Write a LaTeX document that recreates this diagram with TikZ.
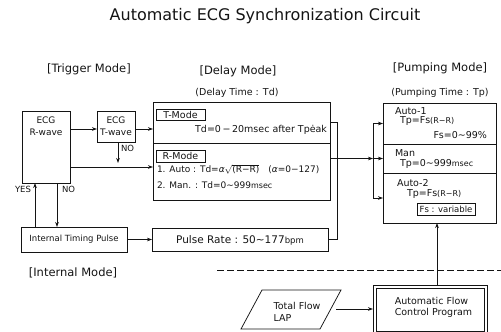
\documentclass[tikz,border=0pt]{standalone}
\usepackage{fontspec}
\setmainfont{DejaVu Sans}
\usetikzlibrary{arrows.meta}
\definecolor{ink}{HTML}{141414}
\begin{document}
\begin{tikzpicture}[x=1pt,y=-1pt,
  every node/.style={inner sep=0pt, outer sep=0pt, text=ink},
  box/.style={draw=ink, line width=0.75pt, rectangle},
  ln/.style={draw=ink, line width=0.75pt},
  arr/.style={draw=ink, line width=0.75pt, -{Stealth[length=5pt,width=3.6pt]}},
  ttl/.style={font=\fontsize{16}{18}\selectfont},
  hdr/.style={font=\fontsize{11.5}{13}\selectfont},
  sub/.style={font=\fontsize{9.5}{11}\selectfont},
  txt/.style={font=\fontsize{9}{12}\selectfont},
  ptx/.style={font=\fontsize{9.5}{12}\selectfont},
  sml/.style={font=\fontsize{8.5}{11}\selectfont},
  tiny/.style={font=\fontsize{8}{9}\selectfont},
]
\useasboundingbox (0,0) rectangle (501,332);

% titles
\node[ttl] (title) at (265,16) {Automatic ECG Synchronization Circuit};
\node[hdr] (htrig) at (89,69) {[Trigger Mode]};
\node[hdr] (hdelay) at (238,71) {[Delay Mode]};
\node[hdr] (hpump) at (440,68) {[Pumping Mode]};
\node[hdr] (hint) at (73,273) {[Internal Mode]};
\node[sub] (sdelay) at (237,93) {(Delay Time : Td)};
\node[sub] (spump) at (440,93) {(Pumping Time : Tp)};

% trigger boxes
\node[box, minimum width=48, minimum height=72] (rwave) at (46,147) {};
\node[txt, align=center] (rwavet) at (46,126) {ECG\\R-wave};
\node[box, minimum width=38, minimum height=31] (twave) at (116,126.5) {};
\node[txt, align=center] (twavet) at (116,126) {ECG\\T-wave};

% delay boxes
\node[box, minimum width=177, minimum height=41] (tsec) at (241.5,122.5) {};
\node[box, minimum width=177, minimum height=57] (rsec) at (241.5,171.5) {};
\node[box, sub, minimum width=49, minimum height=11] (tmode) at (180.5,114.5) {T-Mode};
\node[box, sub, minimum width=49, minimum height=12] (rmode) at (180.5,156) {R-Mode};
\node[sub, anchor=east] (tdtxt) at (327,130) {Td=0\,−\,20msec after Tp\.{e}ak};
\node[txt, anchor=west] (autotxt) at (157,169) {1. Auto : Td={\itshape α}$\sqrt{\mbox{(R−R)}}$\quad({\itshape α}=0−127)};
\node[txt, anchor=west] (mantxt) at (157,185) {2. Man. : Td=0\textasciitilde999{\fontsize{8}{9}\selectfont msec}};

% internal mode
\node[box, minimum width=106, minimum height=25] (itp) at (74,239.5) {};
\node[sml] (itpt) at (74,239.5) {Internal Timing Pulse};
\node[box, minimum width=176, minimum height=23] (prate) at (240,239.5) {};
\node[font=\fontsize{10.5}{12}\selectfont] (pratet) at (240,240) {Pulse Rate : 50\textasciitilde177{\fontsize{8.5}{10}\selectfont bpm}};

% pumping boxes
\node[box, minimum width=113, minimum height=41] (a1) at (439.5,123.5) {};
\node[box, minimum width=113, minimum height=29] (man) at (439.5,158.5) {};
\node[box, minimum width=113, minimum height=50] (a2) at (439.5,198) {};
\node[ptx, anchor=west] (a1t) at (395,111) {Auto-1};
\node[ptx, anchor=west] (a1tp) at (400,121.5) {Tp=Fs{\fontsize{8}{9}\selectfont (R−R)}};
\node[ptx, anchor=east] (a1fs) at (487,135) {Fs=0\textasciitilde99\%};
\node[ptx, anchor=west] (mant) at (395,153) {Man};
\node[ptx, anchor=west] (mantp) at (400,163.5) {Tp=0\textasciitilde999{\fontsize{8}{9}\selectfont msec}};
\node[ptx, anchor=west] (a2t) at (397,183) {Auto-2};
\node[ptx, anchor=west] (a2tp) at (407,194) {Tp=Fs{\fontsize{8}{9}\selectfont (R−R)}};
\node[box, sml, minimum width=58, minimum height=11.5] (fsbox) at (446,209.5) {Fs : variable};

% bottom part
\draw[ink, line width=0.75pt, dash pattern=on 7pt off 3pt] (217,270) -- (501,270);
\draw[ln] (262,290) -- (341,290) -- (320,329) -- (241,329) -- cycle;
\node[sub, align=left] (tflow) at (297,311.5) {Total Flow\\[1pt]LAP};
\node[draw=ink, line width=0.75pt, double, double distance=2.6pt, minimum width=111, minimum height=46] (afc) at (430.5,310) {};
\node[sub, align=left] (afct) at (433.5,307.5) {Automatic Flow\\Control Program};

% helper coordinates
\coordinate (y129) at (0,129);
\coordinate (y167) at (0,167);
\coordinate (xyes) at (35,0);
\coordinate (xno) at (57,0);
\coordinate (tno) at (118,163);
\coordinate (busA) at (337,0);
\coordinate (busB) at (373,0);
\coordinate (xup) at (437,0);
\coordinate (tfout) at (336,309);

% connectors
\draw[arr] (rwave.east |- y129) -- (twave.west |- y129);
\draw[arr] (twave.east |- y129) -- (tsec.west |- y129);
\draw[arr] (tno |- twave.south) -- (tno);
\node[sml, anchor=west] (nolbl1) at (121,148) {NO};
\draw[arr] (rwave.east |- y167) -- (rsec.west |- y167);
\draw[arr] (xyes |- itp.north) -- (xyes |- rwave.south);
\draw[arr] (xno |- rwave.south) -- (xno |- itp.north);
\node[sml, anchor=east] (yeslbl) at (31,189) {YES};
\node[sml, anchor=west] (nolbl2) at (62,189) {NO};
\draw[arr] (itp.east) -- (prate.west);
\draw[ln] (tsec.east) -| (busA |- prate.east) -- (prate.east);
\draw[arr] (rsec.east |- man.west) -- (busB |- man.west);
\draw[ln] (busB |- a1.west) -- (busB |- a2.west);
\draw[arr] (busB |- a1.west) -- (a1.west);
\draw[arr] (busB |- man.west) -- (man.west);
\draw[arr] (busB |- a2.west) -- (a2.west);
\draw[arr] (tfout) -- ([xshift=-2pt]afc.west |- tfout);
\draw[arr] ([yshift=2pt]afc.north -| xup) -- (a2.south -| xup);
\end{tikzpicture}
\end{document}
